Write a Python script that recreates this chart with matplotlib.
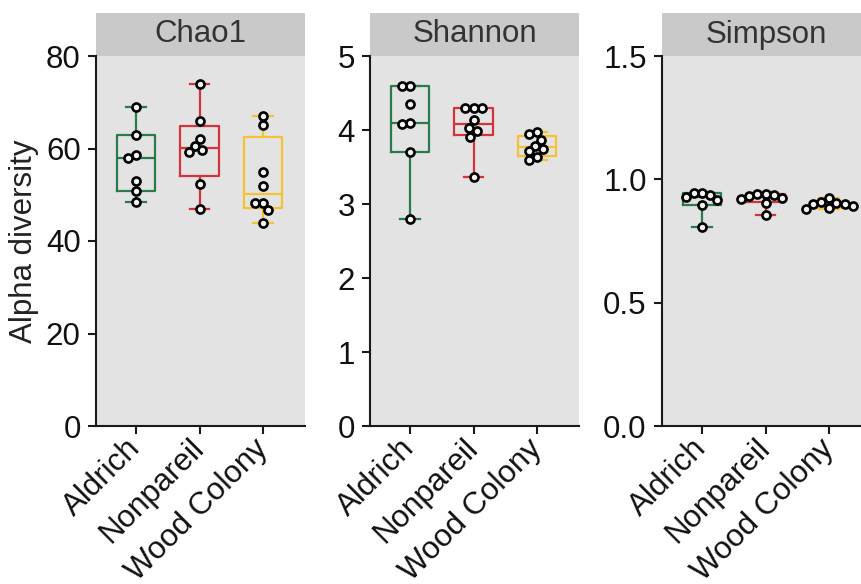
import numpy as np
import matplotlib.pyplot as plt
from matplotlib.patches import Rectangle

plt.rcParams['font.family'] = ['Liberation Sans', 'DejaVu Sans']

groups = ["Aldrich", "Nonpareil", "Wood Colony"]
colors = ["#2b7a4b", "#d1343a", "#f5c236"]

chao1 = [
    [69.0, 62.9, 58.5, 58.0, 53.0, 50.9, 48.4],
    [73.9, 65.9, 62.0, 60.5, 59.7, 59.2, 52.3, 46.9],
    [67.1, 65.1, 55.0, 52.0, 48.3, 48.3, 46.8, 44.0],
]
shannon = [
    [4.60, 4.60, 4.35, 4.09, 4.08, 3.70, 2.80],
    [4.30, 4.30, 4.30, 4.13, 4.03, 3.98, 3.91, 3.36],
    [3.97, 3.94, 3.87, 3.79, 3.74, 3.71, 3.63, 3.59],
]
simpson = [
    [0.943, 0.943, 0.936, 0.930, 0.916, 0.896, 0.807],
    [0.940, 0.940, 0.936, 0.933, 0.923, 0.920, 0.905, 0.855],
    [0.923, 0.909, 0.905, 0.900, 0.900, 0.892, 0.882, 0.878],
]

panels = [
    ("Chao1", chao1, 80, [0, 20, 40, 60, 80], "{:.0f}"),
    ("Shannon", shannon, 5, [0, 1, 2, 3, 4, 5], "{:.0f}"),
    ("Simpson", simpson, 1.5, [0.0, 0.5, 1.0, 1.5], "{:.1f}"),
]

W, H = 862, 584
ax_lefts = [96, 370, 662]
ax_w, ax_h = 209, 370
ax_bottom = 584 - 426
px_per_x = 63.5
xlim = (-0.63, -0.63 + ax_w / px_per_x)


def swarm_offsets(vals, ymax, d=8.5):
    # simple beeswarm in pixel space, returns x offsets in data units
    py = np.array(vals) * ax_h / ymax
    order = np.argsort(-py)
    placed = []
    offs = np.zeros(len(vals))
    for i in order:
        cands = [0.0]
        for (x0, y0) in placed:
            dy = abs(py[i] - y0)
            if dy < d:
                dx = np.sqrt(d * d - dy * dy)
                cands += [x0 - dx, x0 + dx]
        cands.sort(key=lambda c: (round(abs(c), 3), c))
        for c in cands:
            if all((c - x0) ** 2 + (py[i] - y0) ** 2 >= d * d - 1e-6 for (x0, y0) in placed):
                break
        placed.append((c, py[i]))
        offs[i] = c / px_per_x
    return offs


def box_stats(v):
    v = np.asarray(v)
    q1, med, q3 = np.percentile(v, [25, 50, 75], method="weibull")
    return dict(med=med, q1=q1, q3=q3, whislo=v.min(), whishi=v.max(), fliers=[])


fig = plt.figure(figsize=(W / 100, H / 100), dpi=100)

for k, (title, data, ymax, ticks, fmt) in enumerate(panels):
    ax = fig.add_axes([ax_lefts[k] / W, ax_bottom / H, ax_w / W, ax_h / H])
    ax.set_facecolor("#e3e3e3")
    for i, vals in enumerate(data):
        c = colors[i]
        lp = dict(color=c, linewidth=1.6)
        ax.bxp([box_stats(vals)], positions=[i], widths=0.6, showfliers=False,
               boxprops=lp, whiskerprops=lp, capprops=lp, medianprops=lp)
        xs = i + swarm_offsets(vals, ymax)
        ax.plot(xs, vals, 'o', ms=5.8, mfc="#f4f4f4", mec="black", mew=1.9,
                zorder=5, clip_on=False)
    ax.set_xlim(*xlim)
    ax.set_ylim(0, ymax)
    ax.set_yticks(ticks)
    ax.set_yticklabels([fmt.format(t) for t in ticks])
    ax.set_xticks(range(3))
    ax.set_xticklabels(groups, rotation=45, ha="right", va="center",
                       rotation_mode="anchor")
    for s in ["top", "right"]:
        ax.spines[s].set_visible(False)
    for s in ["left", "bottom"]:
        ax.spines[s].set_linewidth(1.5)
        ax.spines[s].set_color("#1a1a1a")
    ax.tick_params(axis="both", labelsize=22.5, width=1.5, length=6, color="#1a1a1a",
                   labelcolor="#111111")
    ax.tick_params(axis="y", pad=5)
    ax.tick_params(axis="x", pad=7)
    # facet strip
    ax.add_patch(Rectangle((0, 1), 1, 43 / ax_h, transform=ax.transAxes,
                           facecolor="#c9c9c9", edgecolor="none", clip_on=False))
    ax.text(0.5, 1 + 21.5 / ax_h, title, transform=ax.transAxes, ha="center",
            va="center", fontsize=22.5, color="#333333")
    if k == 0:
        ax.set_ylabel("Alpha diversity", fontsize=22.5, color="#222222", labelpad=5)

fig.savefig("out.png", dpi=100)
